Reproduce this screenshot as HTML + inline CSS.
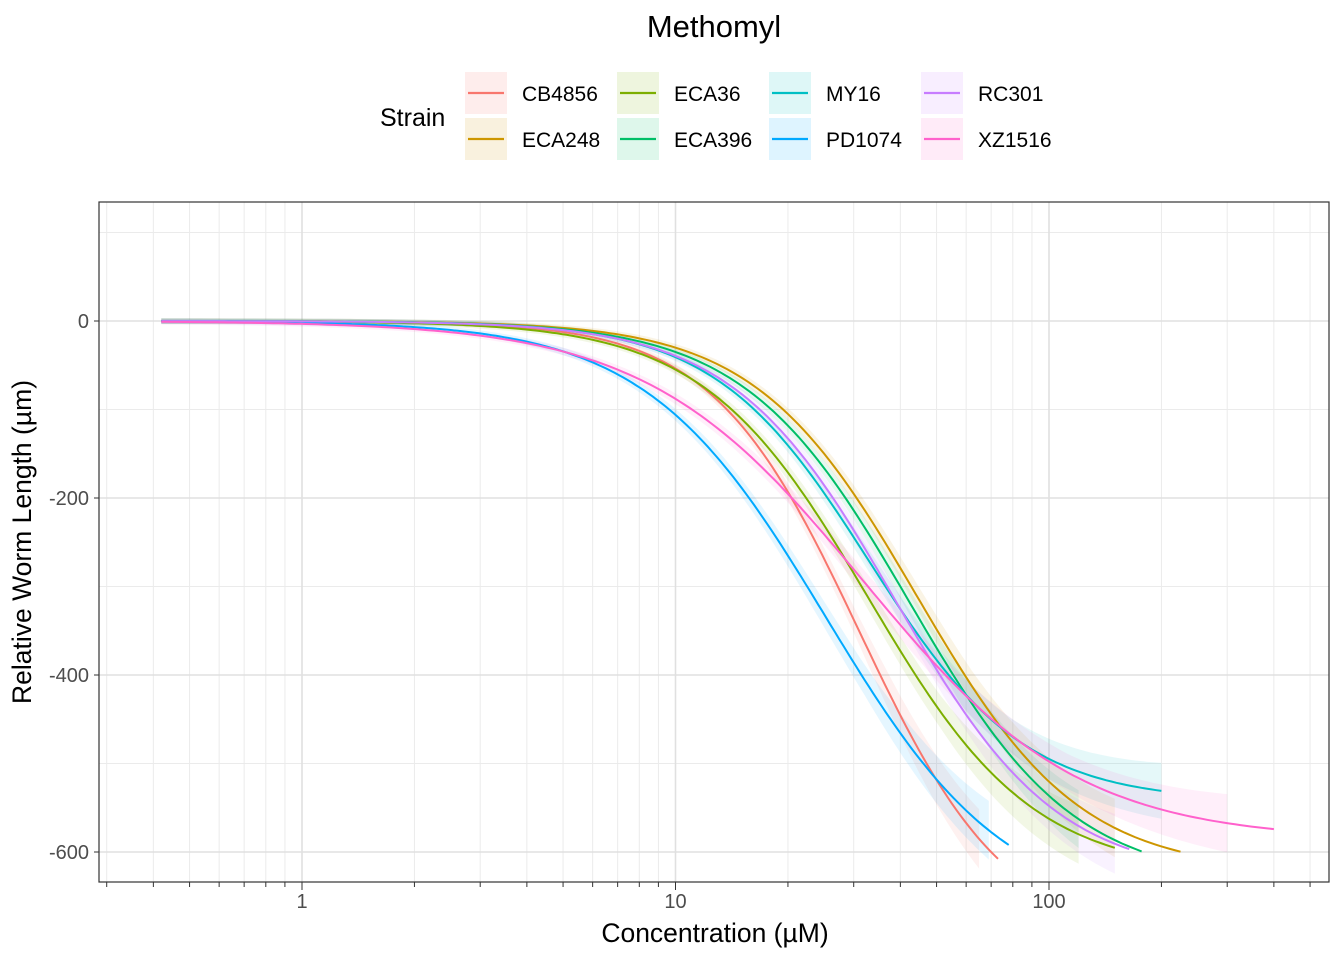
<!DOCTYPE html>
<html><head><meta charset="utf-8"><style>
body{margin:0;background:#fff;font-family:"Liberation Sans",sans-serif}
svg text{font-family:"Liberation Sans",sans-serif}
</style></head><body>
<svg id="c" width="1344" height="960" xmlns="http://www.w3.org/2000/svg"></svg>
<script>
const strains=["CB4856","ECA248","ECA36","ECA396","MY16","PD1074","RC301","XZ1516"];
const colors=["#F8766D","#CD9600","#7CAE00","#00BE67","#00BFC4","#00A9FF","#C77CFF","#FF61CC"];
const lowerLimit=[-700,-623,-625,-635,-543,-670,-630,-587];
const ec50=[31,44.4,32.8,42.3,33,25.3,38.7,31.8];
const slope=[2.2,2.0,1.97,1.97,2.1,1.8,2.0,1.5];
const maxConc=[73,225,150,177,200,78,164,400];
const ribbonMax=[65,150,120,120,200,69,150,300];
const minConc=0.42;
const yTicks=[0,-200,-400,-600];
const xTicks=[1,10,100];

const NS="http://www.w3.org/2000/svg";
const svg=document.getElementById('c');
const L=99,R=1329,T=202,B=882;
const X=v=>302+Math.log10(v)*373.5;
const Y=v=>321-v*0.885;
function el(tag,attrs,parent){const e=document.createElementNS(NS,tag);for(const k in attrs)e.setAttribute(k,attrs[k]);(parent||svg).appendChild(e);return e;}
function txt(s,attrs,parent){const e=el('text',attrs,parent);e.textContent=s;return e;}

const t=txt("Methomyl",{x:714,y:37,'font-size':31,'text-anchor':'middle',fill:'#000'});


const lg=el('g',{});

const lt=txt("Strain",{x:380,y:126,'font-size':25,fill:'#000'},lg);

strains.forEach((s,i)=>{
  const col=Math.floor(i/2),row=i%2;
  const kx=465+col*152,ky=72+row*46;
  const g=el('g',{},lg);
  
  
  el('rect',{x:kx,y:ky,width:42,height:42,fill:colors[i],'fill-opacity':0.13},g);
  el('line',{x1:kx+3,x2:kx+39,y1:ky+21,y2:ky+21,stroke:colors[i],'stroke-width':2.2},g);
  txt(s,{x:kx+57,y:ky+29,'font-size':21,fill:'#000'},g);
});

const panel=el('g',{});

el('rect',{x:L,y:T,width:R-L,height:B-T,fill:'#fff'},panel);
for(let v=100;v>=-700;v-=100){const y=Y(v);if(y>T&&y<B&&v%200!==0)el('line',{x1:L,x2:R,y1:y,y2:y,stroke:'#ebebeb','stroke-width':1},panel);}
for(let d=-1;d<=2;d++)for(let k=1;k<=9;k++){const v=k*Math.pow(10,d);const x=X(v);if(x>L&&x<R)el('line',{x1:x,x2:x,y1:T,y2:B,stroke:k===1?'#e0e0e0':'#ebebeb','stroke-width':k===1?1.6:1},panel);}
yTicks.forEach(v=>el('line',{x1:L,x2:R,y1:Y(v),y2:Y(v),stroke:'#e0e0e0','stroke-width':1.6},panel));

function f(i,x){return lowerLimit[i]/(1+Math.pow(ec50[i]/x,slope[i]));}
strains.forEach((s,i)=>{
  const up=[],dn=[];
  const n=200,a=Math.log10(minConc),b=Math.log10(ribbonMax[i]);
  for(let j=0;j<=n;j++){const x=Math.pow(10,a+(b-a)*j/n);const y=f(i,x);
    const w=3+0.035*Math.abs(y)+(j>n*0.85?(j-n*0.85)/(n*0.15)*10:0);
    up.push(X(x).toFixed(1)+','+Y(y+w).toFixed(1));dn.unshift(X(x).toFixed(1)+','+Y(y-w).toFixed(1));}
  const r=el('polygon',{points:up.concat(dn).join(' '),fill:colors[i],'fill-opacity':0.1,stroke:'none'},panel);
  
});
strains.forEach((s,i)=>{
  const ln=[];
  const n=200,a=Math.log10(minConc),b=Math.log10(maxConc[i]);
  for(let j=0;j<=n;j++){const x=Math.pow(10,a+(b-a)*j/n);ln.push(X(x).toFixed(1)+','+Y(f(i,x)).toFixed(1));}
  const p=el('polyline',{points:ln.join(' '),fill:'none',stroke:colors[i],'stroke-width':2},panel);
  
});
el('rect',{x:L,y:T,width:R-L,height:B-T,fill:'none',stroke:'#333','stroke-width':1.2},panel);

const ya=el('g',{});
yTicks.forEach(v=>{el('line',{x1:L-5,x2:L,y1:Y(v),y2:Y(v),stroke:'#333'},ya);txt(String(v),{x:L-10,y:Y(v)+7,'font-size':20,'text-anchor':'end',fill:'#4d4d4d'},ya);});
const xa=el('g',{});
for(let d=-1;d<=2;d++)for(let k=1;k<=9;k++){const v=k*Math.pow(10,d);const x=X(v);if(x>L&&x<R)el('line',{x1:x,x2:x,y1:B,y2:B+(k===1?8:5),stroke:'#333'},xa);}
xTicks.forEach(v=>txt(String(v),{x:X(v),y:B+26,'font-size':20,'text-anchor':'middle',fill:'#4d4d4d'},xa));
const xt=txt("Concentration (µM)",{x:715,y:942,'font-size':26.5,'text-anchor':'middle',fill:'#000'});

const yt=txt("Relative Worm Length (µm)",{x:0,y:0,'font-size':26.5,'text-anchor':'middle',fill:'#000',transform:'translate(31,542) rotate(-90)'});

</script>
</body></html>
